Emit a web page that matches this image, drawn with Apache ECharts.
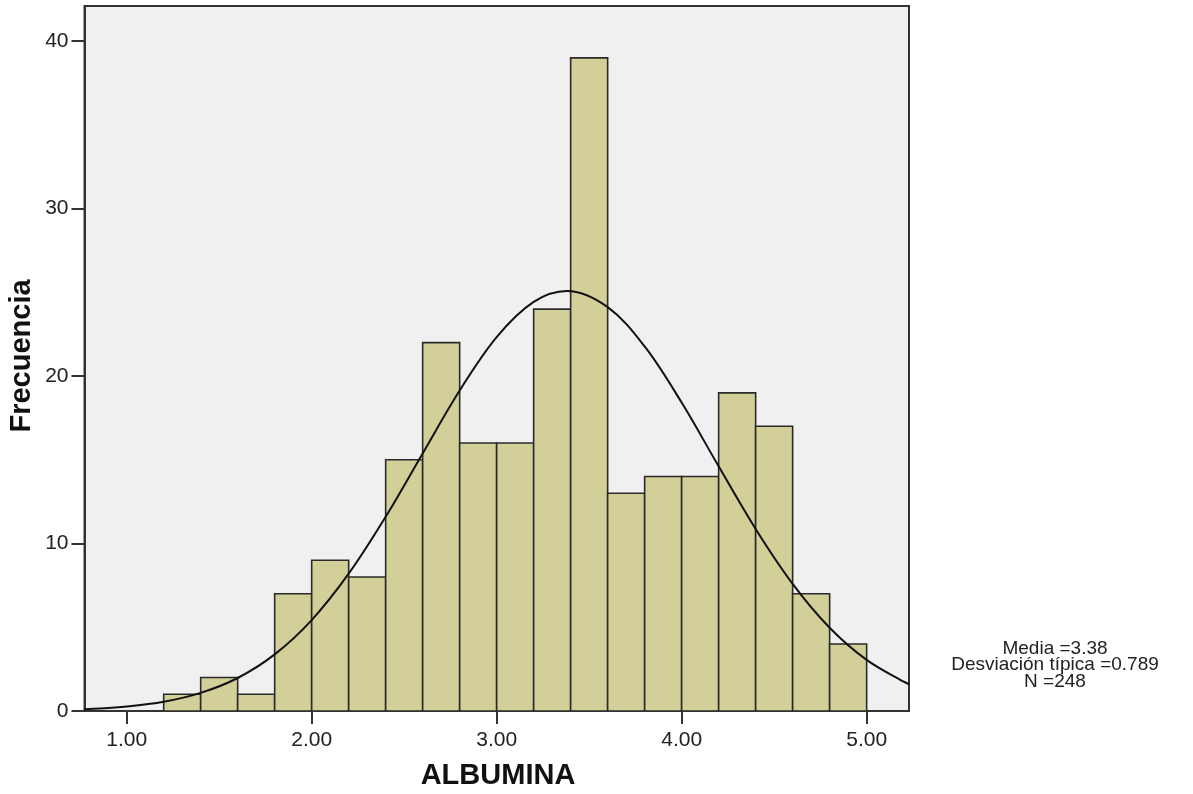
<!DOCTYPE html>
<html>
<head>
<meta charset="utf-8">
<script src="https://cdn.jsdelivr.net/npm/echarts@6/dist/echarts.min.js"></script>
<style>
html,body{margin:0;padding:0;background:#fff;}
#chart{width:1193px;height:794px;}
</style>
</head>
<body>
<div id="chart"></div>
<script>
// Histogram bins (ALBUMINA, bin width 0.2)
var binStarts = [1.2,1.4,1.6,1.8,2.0,2.2,2.4,2.6,2.8,3.0,3.2,3.4,3.6,3.8,4.0,4.2,4.4,4.6,4.8];
var binEnds   = [1.4,1.6,1.8,2.0,2.2,2.4,2.6,2.8,3.0,3.2,3.4,3.6,3.8,4.0,4.2,4.4,4.6,4.8,5.0];
var counts    = [1,2,1,7,9,8,15,22,16,16,24,39,13,14,14,19,17,7,4];
// Normal curve
var curveX = [0.77,0.8,1.0,1.2,1.4,1.6,1.8,2.0,2.2,2.4,2.6,2.8,3.0,3.2,3.38,3.6,3.8,4.0,4.2,4.4,4.6,4.8,5.0,5.2,5.23];
var curveY = [0.11,0.12,0.27,0.55,1.08,1.97,3.38,5.43,8.20,11.60,15.38,19.14,22.33,24.43,25.08,24.12,21.77,18.42,14.61,10.87,7.59,4.97,3.05,1.75,1.60];
var xTicks = [1,2,3,4,5];
var yTicks = [0,10,20,30,40];
var xTitle = 'ALBUMINA';
var yTitle = 'Frecuencia';
var statsLines = ['Media =3.38','Desviación típica =0.789','N =248'];

var barData = binStarts.map(function(s,i){ return [s, binEnds[i], counts[i]]; });
var curveData = curveX.map(function(x,i){ return [x, curveY[i]]; });

var FONT = '"Liberation Sans", Arial, sans-serif';
var chart = echarts.init(document.getElementById('chart'), null, {renderer:'canvas'});
var option = {
  animation: false,
  backgroundColor: '#ffffff',
  grid: {
    left: 84.5, top: 6, right: 284, bottom: 83,
    show: true, backgroundColor: '#f0f0f0', borderColor: '#333333', borderWidth: 2
  },
  xAxis: {
    type: 'value', min: 0.772, max: 5.229,
    axisLine: {show: true, onZero: false, lineStyle: {color: '#333333', width: 2}},
    axisTick: {show: true, length: 13, customValues: xTicks, lineStyle: {color: '#333333', width: 2}},
    axisLabel: {customValues: xTicks, color: '#222222', fontFamily: FONT, fontSize: 21, margin: 19,
      formatter: function(v){ return v.toFixed(2); }},
    splitLine: {show: false}
  },
  yAxis: {
    type: 'value', min: 0, max: 42.1,
    axisLine: {show: true, lineStyle: {color: '#333333', width: 2}},
    axisTick: {show: true, length: 13, customValues: yTicks, lineStyle: {color: '#333333', width: 2}},
    axisLabel: {customValues: yTicks, color: '#222222', fontFamily: FONT, fontSize: 21, margin: 16},
    splitLine: {show: false}
  },
  series: [
    {
      type: 'custom',
      data: barData,
      clip: true,
      renderItem: function(params, api){
        var p0 = api.coord([api.value(0), api.value(2)]);
        var p1 = api.coord([api.value(1), 0]);
        return {
          type: 'rect',
          shape: {x: p0[0], y: p0[1], width: p1[0]-p0[0], height: p1[1]-p0[1]},
          style: {fill: '#d3cf98', stroke: '#2a2a2a', lineWidth: 1.6}
        };
      },
      encode: {x: [0,1], y: 2},
      z: 2
    },
    {
      type: 'line',
      data: curveData,
      smooth: 0.35,
      showSymbol: false,
      clip: true,
      lineStyle: {color: '#111111', width: 2},
      z: 3
    }
  ],
  graphic: [
    {type: 'text', x: 498, y: 776, style: {text: xTitle, font: 'bold 29px ' + FONT, fill: '#111', align: 'center', verticalAlign: 'middle'}},
    {type: 'text', x: 22, y: 356, rotation: Math.PI/2, style: {text: yTitle, font: 'bold 29px ' + FONT, fill: '#111', align: 'center', verticalAlign: 'middle'}},
    {type: 'text', x: 1055, y: 665, style: {text: statsLines.join('\n'), font: '19px ' + FONT, lineHeight: 16.5, fill: '#222', align: 'center', verticalAlign: 'middle'}}
  ]
};
chart.setOption(option);
</script>
</body>
</html>
